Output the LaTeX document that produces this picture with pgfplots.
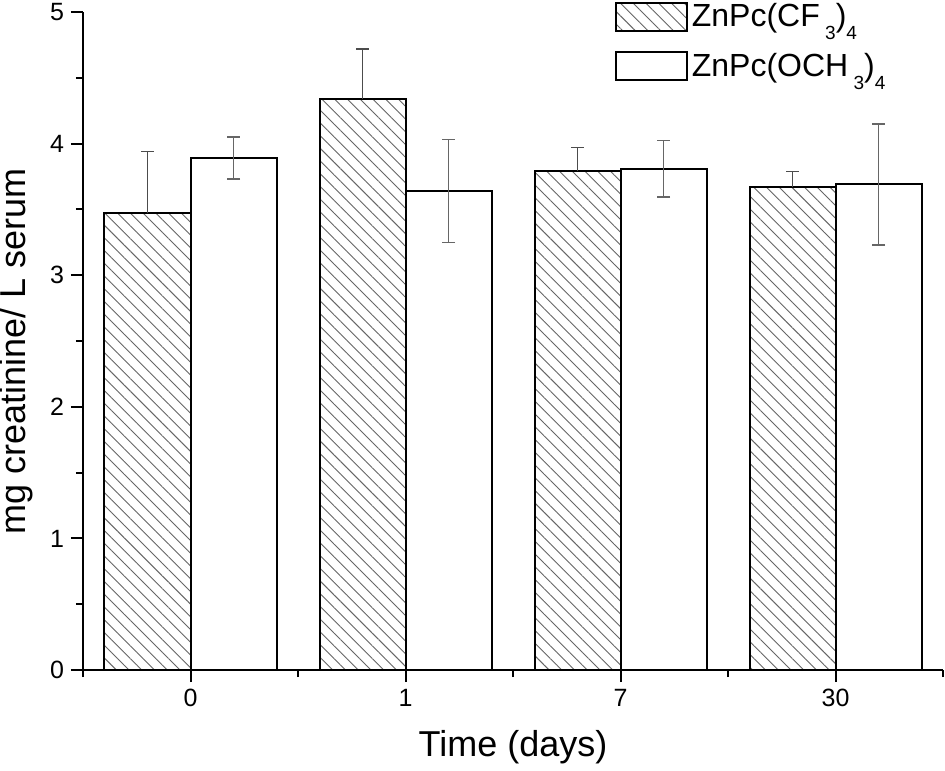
\documentclass[border=0pt]{standalone}
\usepackage{pgfplots}
\pgfplotsset{compat=1.18}
\usetikzlibrary{patterns.meta}
\usepackage{fontspec}
\setmainfont{Liberation Sans}
\newcommand\sub[1]{\raisebox{-6.4pt}{\fontsize{9.5}{10}\selectfont #1}}
\pgfplotsset{mylegend/.style={legend image code/.code={\draw[##1] (0pt,-7pt) rectangle (35.5pt,7pt);}}}
\begin{document}
\begin{tikzpicture}
\begin{axis}[
  at={(0,0)}, anchor=south west,
  scale only axis, width=430pt, height=329pt,
  xmin=-0.5, xmax=3.5, ymin=0, ymax=5,
  axis lines=left, axis line style={-, line width=1pt},
  tick align=outside, major tick length=6pt, minor tick length=3.5pt,
  every tick/.style={line width=1pt, black},
  xtick={0,1,2,3}, xticklabels={0,1,7,30},
  minor xtick={-0.5,0.5,1.5,2.5,3.5},
  ytick={0,1,2,3,4,5}, minor ytick={0.5,1.5,2.5,3.5,4.5},
  /pgf/number format/assume math mode=true,
  xticklabel style={font=\fontsize{12.5}{15}\selectfont},
  yticklabel style={font=\fontsize{12.5}{15}\selectfont},
  xlabel={Time (days)}, ylabel={mg creatinine/ L serum},
  label style={font=\fontsize{18}{21}\selectfont},
  xlabel style={at={(axis description cs:0.5,0)}, anchor=center, yshift=-38.7pt},
  ylabel style={at={(axis description cs:-0.0775,0.484)}, anchor=center},
  ybar, bar width=0.4,
  legend style={at={(axis description cs:0.618,1.0197)}, anchor=north west,
    draw=none, fill=none, inner sep=0pt, row sep=7.8pt,
    font=\fontsize{16}{19}\selectfont},
  legend cell align=left,
  clip=false,
]
\addplot[bar shift=-0.2, draw=black, line width=1pt, fill=white,
  postaction={pattern={Lines[angle=-45,distance=4.5pt,line width=0.45pt]}, pattern color=black!60},
  mylegend,
  error bars/.cd, y dir=plus, y explicit,
  error bar style={line width=0.7pt, black!70},
  error mark options={rotate=90, line width=0.7pt, black!70, mark size=3.25pt}]
  table[x=x, y=y, y error=e] {
  x y e
  0 3.47 0.47
  1 4.34 0.38
  2 3.79 0.18
  3 3.67 0.12
  };
\addlegendentry{ZnPc(CF\,\sub{3})\sub{4}}
\addplot[bar shift=0.2, draw=black, line width=1pt, fill=white,
  mylegend,
  error bars/.cd, y dir=both, y explicit,
  error bar style={line width=0.7pt, black!60},
  error mark options={rotate=90, line width=0.7pt, black!60, mark size=3.25pt}]
  table[x=x, y=y, y error=e] {
  x y e
  0 3.89 0.16
  1 3.64 0.39
  2 3.81 0.215
  3 3.69 0.46
  };
\addlegendentry{ZnPc(OCH\,\sub{3})\sub{4}}
\end{axis}
\pgfresetboundingbox
\path (-41.5pt,-50pt) rectangle (431pt,335pt);
\end{tikzpicture}
\end{document}
